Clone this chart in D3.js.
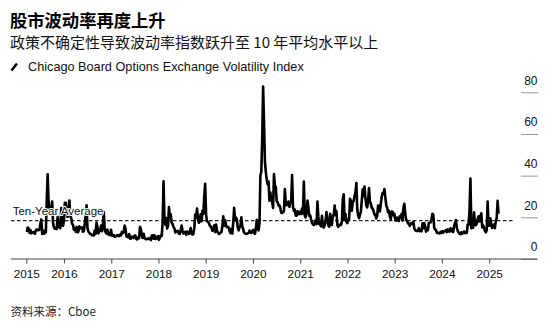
<!DOCTYPE html>
<html><head><meta charset="utf-8">
<script src="https://cdn.jsdelivr.net/npm/d3@7"></script>
<style>
body{margin:0;background:#fff;}
svg{display:block;}
</style></head><body>
<svg id="c" width="553" height="333"></svg>
<script>
// ---- text ----
const titleText = "股市波动率再度上升";
const subtitleText = "政策不确定性导致波动率指数跃升至 10 年平均水平以上";
const legendText = "Chicago Board Options Exchange Volatility Index";
const avgLabel = "Ten-Year Average";
const sourceText = "资料来源：Cboe";

// ---- axes ----
const domainStart = "2015-03-16";
const domainEnd = "2025-03-14";
const xTickDates = ["2015-03-16","2016-01-01","2017-01-01","2018-01-01","2019-01-01","2020-01-01",
                    "2021-01-01","2022-01-01","2023-01-01","2024-01-01","2025-01-01"];
const yTickValues = [0, 20, 40, 60, 80];
const tenYearAverage = 18.4;

// ---- weekly VIX readings (Friday weeks) ----
const vix2015 = [13.0,15.1,14.7,12.6,13.9,12.3,12.7,12.9,12.4,12.1,13.8,14.2,13.8,14.0,14.0,16.8,19.0,12.0,13.7,12.1,13.4,12.8,28.0,40.7,27.8,23.2,22.3,23.6,27.6,17.1,15.1,14.5,15.1,14.3,20.1,15.5,15.1,14.8,24.4,20.7,16.0];
const vix2016 = [18.2,27.0,27.0,22.3,20.2,23.4,28.1,20.5,19.8,16.9,16.5,14.0,14.7,13.1,15.4,12.8,13.2,15.7,14.7,15.0,15.2,13.1,13.5,17.0,20.9,25.8,14.8,13.2,12.7,12.0,12.0,11.4,11.6,11.3,13.7,12.0,17.5,15.4,12.3,13.3,13.5,16.1,13.3,16.2,22.5,14.2,12.9,12.3,14.1,11.8,12.2,11.4,14.0];
const vix2017 = [11.3,11.2,11.5,10.6,11.0,10.9,11.5,11.5,11.0,11.7,11.3,13.0,12.4,12.9,16.0,14.6,10.8,10.6,10.4,12.0,9.8,9.8,10.7,10.4,10.0,11.2,11.2,9.5,9.4,10.3,10.0,15.5,14.3,11.3,10.1,12.1,10.2,9.6,9.5,9.7,9.6,10.0,9.8,9.1,11.3,11.4,9.7,11.4,9.6,10.5,9.9,11.0];
const vix2018 = [9.2,10.2,11.3,11.1,17.3,37.3,19.5,16.5,19.6,14.6,15.8,24.9,20.0,21.5,17.4,16.9,15.4,14.8,12.7,13.4,13.2,13.5,12.2,12.0,13.8,16.1,13.4,12.2,12.9,13.0,11.6,13.2,12.6,12.0,12.9,14.9,12.1,11.7,12.1,14.8,21.3,19.9,24.2,19.5,17.4,18.1,21.5,18.1,23.2,21.6,30.1,36.1];
const vix2019 = [21.4,18.2,17.8,17.4,16.1,15.7,14.9,13.5,14.6,16.1,12.9,16.5,13.7,12.8,12.0,12.1,12.7,12.9,16.0,20.5,15.9,18.7,16.3,15.3,15.4,15.1,13.3,12.4,14.5,12.2,17.6,24.6,18.5,19.9,19.0,15.0,13.7,15.3,16.0,20.0,15.6,14.3,12.7,12.3,12.1,12.1,12.3,12.6,13.6,12.6,12.5,13.4];
const vix2020 = [14.0,12.6,12.1,14.6,18.8,15.5,13.7,17.1,40.1,41.9,57.8,82.7,65.5,46.8,41.7,38.2,35.9,37.2,28.0,31.9,28.2,27.5,24.5,40.8,35.1,34.7,27.7,27.3,25.7,25.8,24.5,22.2,22.1,22.5,23.0,33.6,26.9,25.8,26.4,27.6,25.0,27.4,27.6,40.3,24.9,23.1,23.7,20.8,20.8,22.9,21.6,21.5];
const vix2021 = [22.8,21.6,24.3,21.9,37.2,20.9,20.0,22.1,28.0,24.7,20.7,21.0,18.9,17.3,16.7,16.3,17.3,18.6,16.7,27.6,20.2,16.8,16.4,15.7,20.7,15.6,15.1,16.2,18.5,22.5,18.2,16.2,15.5,21.7,16.4,16.4,21.0,20.8,25.7,21.2,23.0,16.3,15.4,16.3,16.5,16.3,17.9,28.6,31.1,18.7,21.6,18.0,17.2];
const vix2022 = [18.8,19.2,28.9,27.7,23.2,27.4,27.8,30.3,32.0,36.4,23.9,20.8,19.6,21.2,22.7,28.2,33.4,30.2,34.8,29.4,25.7,24.8,27.8,34.0,27.2,26.7,24.6,24.2,23.0,21.3,21.2,19.5,20.6,25.6,25.5,22.8,26.3,29.9,31.6,31.4,33.6,29.7,25.8,24.6,22.5,23.1,20.5,19.1,22.8,22.6,20.9,21.7];
const vix2023 = [18.6,18.4,19.9,18.5,18.3,20.5,20.0,21.7,18.5,24.8,26.5,21.7,18.7,18.4,17.1,16.8,15.8,17.2,17.0,16.8,18.0,14.6,13.8,13.5,13.4,13.6,14.8,13.3,13.6,13.3,17.1,14.8,17.3,15.7,13.1,14.4,13.8,17.2,17.5,17.5,19.3,21.7,21.3,14.9,14.2,13.8,12.5,12.6,12.4,12.3,13.0,12.5];
const vix2024 = [13.4,12.7,13.3,13.3,13.9,12.9,14.2,13.8,13.1,14.7,14.4,13.1,13.0,16.0,17.3,18.7,15.0,13.5,12.6,12.0,11.9,12.9,12.2,12.7,13.2,12.4,12.5,12.5,16.5,16.4,23.4,38.6,14.8,15.9,15.0,22.4,16.6,16.2,17.0,19.2,20.5,18.0,20.3,21.9,15.2,16.1,15.2,13.5,12.8,13.8,27.6,16.0];
const vix2025 = [16.1,19.5,16.0,14.9,16.4,16.5,14.8,18.2,19.6,27.9,21.8];
const seriesStarts = ["2015-03-20","2016-01-01","2017-01-06","2018-01-05","2019-01-04","2020-01-03",
                      "2021-01-01","2022-01-07","2023-01-06","2024-01-05","2025-01-03"];
const seriesValues = [vix2015,vix2016,vix2017,vix2018,vix2019,vix2020,vix2021,vix2022,vix2023,vix2024,vix2025];

// ---- build ----
const parse = d3.timeParse("%Y-%m-%d");
const data = seriesValues.flatMap((vals, k) =>
  vals.map((v, i) => ({date: d3.timeDay.offset(parse(seriesStarts[k]), 7 * i), v})));

const svg = d3.select("#c");
const latin = "'Liberation Sans', Arial, Helvetica, sans-serif";
const cjk = "'Noto Sans CJK SC', 'Liberation Sans', sans-serif";

const x = d3.scaleTime().domain([parse(domainStart), parse(domainEnd)]).range([26.3, 498.5]);
const y = d3.scaleLinear().domain([0, 80]).range([259, 92.3]);

// titles
svg.append("text").attr("x", 10).attr("y", 27).text(titleText)
  .style("font-family", cjk).style("font-weight", "bold").style("font-size", "17.3px").attr("fill", "#000");
svg.append("text").attr("x", 10).attr("y", 47.5).text(subtitleText)
  .style("font-family", cjk).style("font-size", "15px").attr("fill", "#111");

// legend
svg.append("line").attr("x1", 11.5).attr("y1", 70.5).attr("x2", 17).attr("y2", 63.5)
  .attr("stroke", "#000").attr("stroke-width", 2.5).attr("stroke-linecap", "butt");
svg.append("text").attr("x", 28).attr("y", 70.6).text(legendText)
  .style("font-family", latin).style("font-size", "12.7px").attr("fill", "#111");

// y axis (right)
const yAxis = svg.append("g").attr("transform", "translate(521,0)")
  .call(d3.axisRight(y).tickValues(yTickValues).tickSize(17).tickFormat(d3.format("d")));
yAxis.select(".domain").remove();
yAxis.selectAll(".tick line").attr("stroke", "#999").attr("stroke-width", 1);
yAxis.selectAll(".tick text").attr("x", 16.5).attr("dy", null).attr("y", -8.3)
  .attr("text-anchor", "end").attr("fill", "#111")
  .style("font-family", latin).style("font-size", "12px");

// average line
svg.append("line").attr("x1", 11).attr("x2", 515)
  .attr("y1", y(tenYearAverage)).attr("y2", y(tenYearAverage))
  .attr("stroke", "#222").attr("stroke-width", 1.2).attr("stroke-dasharray", "3.5,2.5");

// data line
svg.append("path").datum(data)
  .attr("d", d3.line().x(d => x(d.date)).y(d => y(d.v)))
  .attr("fill", "none").attr("stroke", "#000").attr("stroke-width", 2.6)
  .attr("stroke-linejoin", "round");

// avg label (white halo keeps it legible over the line)
svg.append("text").attr("x", 12.7).attr("y", 215).text(avgLabel)
  .style("font-family", latin).style("font-size", "11.5px").attr("fill", "#111")
  .attr("stroke", "#fff").attr("stroke-width", 2).attr("stroke-linejoin", "round")
  .style("paint-order", "stroke");

// x axis
const xAxis = svg.append("g").attr("transform", "translate(0,259)")
  .call(d3.axisBottom(x).tickValues(xTickDates.map(parse)).tickSize(4.5)
        .tickFormat(d3.timeFormat("%Y")));
xAxis.select(".domain").remove();
xAxis.selectAll(".tick line").attr("stroke", "#444");
xAxis.selectAll(".tick text").attr("dy", null).attr("y", 19.3).attr("fill", "#111")
  .style("font-family", latin).style("font-size", "11.8px");
svg.append("line").attr("x1", 11).attr("x2", 537).attr("y1", 259).attr("y2", 259)
  .attr("stroke", "#444").attr("stroke-width", 1);

// source
svg.append("text").attr("x", 10.5).attr("y", 316).text(sourceText)
  .style("font-family", cjk).style("font-size", "11.5px").attr("fill", "#222");
</script>
</body></html>
